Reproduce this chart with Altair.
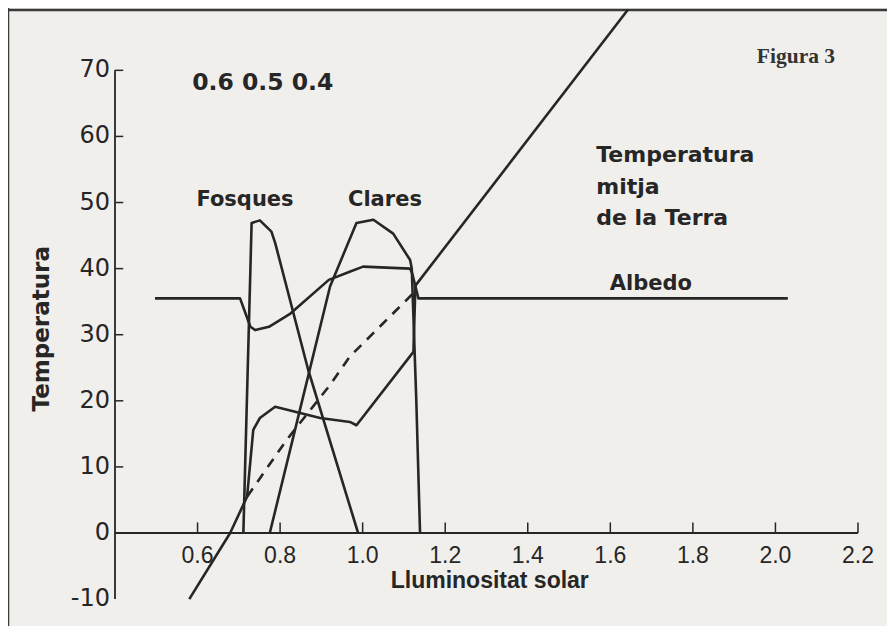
import altair as alt
import pandas as pd

INK = "#262626"
BG = "#f1efec"
FONT = "DejaVu Sans"
NUMFONT = "Liberation Sans"

# ---------------- data (luminosity L, temperature T) ----------------
# Mean temperature without life: solid bottom part, dashed middle, solid top part
nolife_low_L = [0.58, 0.679, 0.72]
nolife_low_T = [-10.0, 0.0, 5.5]
nolife_mid_L = [0.72, 0.816, 0.921, 0.969, 1.123]
nolife_mid_T = [5.5, 14.1, 22.4, 26.7, 36.3]
nolife_high_L = [1.125, 1.643]
nolife_high_T = [37.2, 79.2]

# Mean temperature with daisies
life_L = [0.72, 0.735, 0.751, 0.788, 0.897, 0.969, 0.985, 1.123, 1.128]
life_T = [5.5, 15.6, 17.4, 19.1, 17.4, 16.8, 16.3, 27.4, 37.8]

# Albedo (plotted on the temperature scale)
albedo_L = [0.497, 0.703, 0.728, 0.740, 0.773, 0.825, 0.918, 0.967, 1.001, 1.115, 1.12, 1.135, 2.03]
albedo_T = [35.5, 35.5, 31.2, 30.7, 31.2, 33.2, 38.3, 39.5, 40.3, 40.0, 39.3, 35.5, 35.5]

# Dark daisies (Fosques)
dark_L = [0.711, 0.731, 0.751, 0.779, 0.788, 0.868, 0.989]
dark_T = [0.0, 46.9, 47.3, 45.6, 43.9, 24.7, 0.0]

# Light daisies (Clares)
light_L = [0.775, 0.844, 0.921, 0.985, 1.026, 1.074, 1.115, 1.119, 1.13, 1.139]
light_T = [0.0, 17.6, 37.3, 46.9, 47.4, 45.3, 41.3, 40.0, 20.0, 0.0]

# axes
x_ticks = [0.6, 0.8, 1.0, 1.2, 1.4, 1.6, 1.8, 2.0, 2.2]
x_tick_labels = ["0.6", "0.8", "1.0", "1.2", "1.4", "1.6", "1.8", "2.0", "2.2"]
y_ticks = [70, 60, 50, 40, 30, 20, 10, 0, -10]
y_tick_labels = ["70", "60", "50", "40", "30", "20", "10", "0", "-10"]

# ---------------- scales ----------------
W, H = 879, 618
X_DOM = [0.1408, 2.2703]
Y_DOM = [-14.07, 79.43]
xs = alt.Scale(domain=X_DOM, nice=False, zero=False)
ys = alt.Scale(domain=Y_DOM, nice=False, zero=False)


def X(f):
    return alt.X(f, type="quantitative", scale=xs, axis=None)


def Y(f):
    return alt.Y(f, type="quantitative", scale=ys, axis=None)


def line(Ls, Ts, dash=None, width=2.6):
    df = pd.DataFrame({"L": Ls, "T": Ts, "i": list(range(len(Ls)))})
    kw = dict(color=INK, strokeWidth=width, strokeJoin="round", strokeCap="butt")
    if dash:
        kw["strokeDash"] = dash
    return alt.Chart(df).mark_line(**kw).encode(x=X("L"), y=Y("T"), order="i:Q")


def text(df, **kw):
    base = dict(color=INK, baseline="middle")
    base.update(kw)
    return alt.Chart(df).mark_text(**base).encode(x=X("L"), y=Y("T"), text="s:N")


layers = []

# frame (top and left border of the figure)
one = pd.DataFrame({"a": [0]})
layers.append(alt.Chart(one).mark_rule(color="#3a3a3a", strokeWidth=2.5).encode(
    x=alt.value(0), x2=alt.value(W), y=alt.value(2)))
layers.append(alt.Chart(one).mark_rule(color="#3a3a3a", strokeWidth=2.5).encode(
    x=alt.value(0), y=alt.value(0), y2=alt.value(H)))

# y axis line and ticks (ticks point to the right)
yaxis = pd.DataFrame({"L": [0.4], "T0": [-10], "T1": [70]})
layers.append(alt.Chart(yaxis).mark_rule(color=INK, strokeWidth=1.8).encode(
    x=X("L"), y=Y("T0"), y2="T1"))
ytk = pd.DataFrame({"T": [t for t in y_ticks if t > 0], "L0": 0.4, "L1": 0.42})
layers.append(alt.Chart(ytk).mark_rule(color=INK, strokeWidth=1.5).encode(
    x=X("L0"), x2="L1", y=Y("T")))

# x axis line (at T = 0) and ticks (pointing up)
xaxis = pd.DataFrame({"L0": [0.4], "L1": [2.2], "T": [0]})
layers.append(alt.Chart(xaxis).mark_rule(color=INK, strokeWidth=1.8).encode(
    x=X("L0"), x2="L1", y=Y("T")))
xtk = pd.DataFrame({"L": x_ticks, "T0": 0, "T1": 1.6})
layers.append(alt.Chart(xtk).mark_rule(color=INK, strokeWidth=1.5).encode(
    x=X("L"), y=Y("T0"), y2="T1"))

# tick labels
ytl = pd.DataFrame({"L": 0.388, "T": y_ticks, "s": y_tick_labels})
layers.append(text(ytl, font=FONT, fontSize=24, align="right"))
xtl = pd.DataFrame({"L": x_ticks, "T": -3.5, "s": x_tick_labels})
layers.append(text(xtl, font=NUMFONT, fontSize=23, align="center"))

# curves
layers.append(line(nolife_low_L, nolife_low_T))
layers.append(line(nolife_mid_L, nolife_mid_T, dash=[10, 8]))
layers.append(line(nolife_high_L, nolife_high_T))
layers.append(line(life_L, life_T))
layers.append(line(albedo_L, albedo_T))
layers.append(line(dark_L, dark_T))
layers.append(line(light_L, light_T))

# annotations
ann_c = pd.DataFrame({
    "L": [0.715, 1.054, 1.698],
    "T": [50.4, 50.4, 37.6],
    "s": ["Fosques", "Clares", "Albedo"],
})
layers.append(text(ann_c, font=FONT, fontSize=21, fontWeight="bold", align="center"))
ann_l = pd.DataFrame({
    "L": [1.566, 1.566, 1.566],
    "T": [57.2, 52.4, 47.7],
    "s": ["Temperatura", "mitja", "de la Terra"],
})
layers.append(text(ann_l, font=FONT, fontSize=22, fontWeight="bold", align="left"))
alb = pd.DataFrame({"L": [0.758], "T": [68.1], "s": ["0.6 0.5 0.4"]})
layers.append(text(alb, font=FONT, fontSize=23.5, fontWeight="bold", align="center"))
fig = pd.DataFrame({"L": [1.955], "T": [72.0], "s": ["Figura  3"]})
layers.append(text(fig, font="Liberation Serif", fontSize=21.5, fontWeight="bold",
                   color="#333333", align="left"))

# axis titles
xt = pd.DataFrame({"L": [1.308], "T": [-7.3], "s": ["Lluminositat solar"]})
layers.append(text(xt, font=NUMFONT, fontSize=23, fontWeight="bold", align="center"))
yt = pd.DataFrame({"L": [0.2232], "T": [30.9], "s": ["Temperatura"]})
layers.append(text(yt, font=FONT, fontSize=23, fontWeight="bold", align="center", angle=270))

chart = alt.layer(*layers).properties(
    width=W, height=H, background=BG, padding=0,
    autosize=alt.AutoSizeParams(type="none"),
).configure_view(stroke=None)

chart.save("out.html", embed_options={"renderer": "svg", "actions": False})
